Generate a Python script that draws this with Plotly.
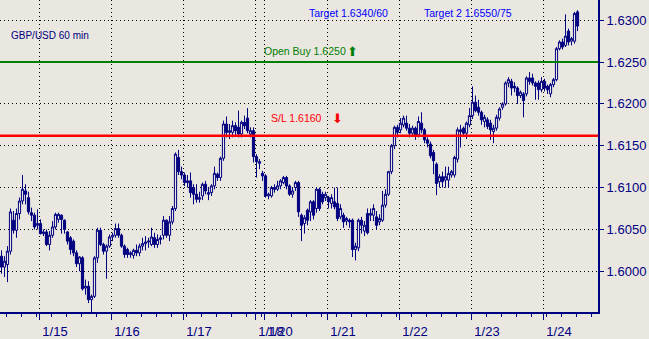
import plotly.graph_objects as go

# ---------------- data (GBP/USD, 60 min bars) ----------------
open_ = [1.6018,1.6005,1.6008,1.6024,1.6061,1.6049,1.6069,1.6084,1.6096,1.6088,
 1.6070,1.6067,1.6055,1.6057,1.6045,1.6047,1.6032,1.6043,1.6053,1.6062,
 1.6067,1.6061,1.6047,1.6040,1.6036,1.6022,1.6009,1.6016,1.5980,1.5982,
 1.5966,1.5970,1.6016,1.6049,1.6032,1.6024,1.6030,1.6041,1.6043,1.6051,
 1.6043,1.6030,1.6026,1.6020,1.6019,1.6025,1.6022,1.6030,1.6033,1.6035,
 1.6032,1.6040,1.6032,1.6038,1.6043,1.6061,1.6043,1.6059,1.6075,1.6136,
 1.6119,1.6115,1.6106,1.6108,1.6100,1.6092,1.6086,1.6090,1.6104,1.6092,
 1.6094,1.6102,1.6116,1.6112,1.6135,1.6176,1.6166,1.6166,1.6174,1.6172,
 1.6164,1.6178,1.6183,1.6164,1.6168,1.6137,1.6129,1.6117,1.6114,1.6090,
 1.6090,1.6100,1.6098,1.6102,1.6106,1.6112,1.6102,1.6092,1.6100,1.6106,
 1.6067,1.6057,1.6073,1.6071,1.6083,1.6075,1.6098,1.6092,1.6088,1.6088,
 1.6081,1.6083,1.6081,1.6065,1.6067,1.6060,1.6061,1.6061,1.6026,1.6028,
 1.6061,1.6048,1.6069,1.6067,1.6067,1.6065,1.6059,1.6061,1.6079,1.6092,
 1.6119,1.6150,1.6172,1.6169,1.6175,1.6177,1.6171,1.6165,1.6171,1.6163,
 1.6177,1.6169,1.6157,1.6152,1.6142,1.6128,1.6107,1.6113,1.6109,1.6109,
 1.6115,1.6115,1.6134,1.6169,1.6171,1.6165,1.6175,1.6186,1.6202,1.6196,
 1.6190,1.6179,1.6181,1.6177,1.6167,1.6171,1.6183,1.6196,1.6200,1.6225,
 1.6227,1.6221,1.6219,1.6210,1.6212,1.6212,1.6231,1.6231,1.6225,1.6225,
 1.6217,1.6227,1.6221,1.6212,1.6223,1.6229,1.6266,1.6274,1.6270,1.6287,
 1.6275,1.6275,1.6310]

high = [1.6025,1.6018,1.6030,1.6075,1.6072,1.6075,1.6088,1.6115,1.6104,1.6095,
 1.6076,1.6070,1.6074,1.6062,1.6050,1.6050,1.6048,1.6060,1.6070,1.6070,
 1.6068,1.6062,1.6048,1.6042,1.6038,1.6025,1.6018,1.6018,1.5990,1.5988,
 1.5972,1.6018,1.6052,1.6052,1.6034,1.6032,1.6044,1.6046,1.6057,1.6057,
 1.6045,1.6032,1.6028,1.6024,1.6027,1.6032,1.6033,1.6040,1.6042,1.6040,
 1.6052,1.6046,1.6044,1.6043,1.6066,1.6062,1.6066,1.6078,1.6142,1.6145,
 1.6125,1.6118,1.6115,1.6118,1.6104,1.6104,1.6095,1.6106,1.6108,1.6100,
 1.6104,1.6125,1.6118,1.6137,1.6180,1.6185,1.6176,1.6180,1.6178,1.6192,
 1.6180,1.6186,1.6195,1.6172,1.6172,1.6140,1.6134,1.6120,1.6116,1.6094,
 1.6102,1.6104,1.6108,1.6110,1.6114,1.6114,1.6104,1.6100,1.6108,1.6108,
 1.6069,1.6067,1.6075,1.6085,1.6085,1.6100,1.6100,1.6095,1.6095,1.6090,
 1.6092,1.6100,1.6100,1.6080,1.6070,1.6065,1.6063,1.6063,1.6034,1.6063,
 1.6065,1.6060,1.6075,1.6075,1.6080,1.6072,1.6068,1.6096,1.6098,1.6120,
 1.6152,1.6174,1.6175,1.6183,1.6186,1.6186,1.6176,1.6174,1.6173,1.6185,
 1.6190,1.6171,1.6160,1.6155,1.6145,1.6130,1.6116,1.6119,1.6125,1.6125,
 1.6121,1.6138,1.6172,1.6175,1.6173,1.6179,1.6195,1.6221,1.6210,1.6205,
 1.6192,1.6187,1.6184,1.6181,1.6175,1.6187,1.6196,1.6202,1.6227,1.6232,
 1.6230,1.6226,1.6221,1.6216,1.6214,1.6233,1.6238,1.6236,1.6227,1.6228,
 1.6232,1.6230,1.6223,1.6225,1.6231,1.6268,1.6276,1.6278,1.6307,1.6290,
 1.6280,1.6310,1.6312]

low = [1.5997,1.5993,1.5987,1.6020,1.6045,1.6040,1.6062,1.6080,1.6080,1.6068,
 1.6060,1.6050,1.6050,1.6044,1.6042,1.6030,1.6025,1.6040,1.6050,1.6058,
 1.6045,1.6045,1.6032,1.6020,1.6018,1.6005,1.6000,1.5977,1.5972,1.5962,
 1.5950,1.5968,1.6010,1.6030,1.6020,1.5991,1.6028,1.6036,1.6040,1.6040,
 1.6028,1.6016,1.6016,1.6016,1.6015,1.6018,1.6018,1.6025,1.6025,1.6028,
 1.6030,1.6028,1.6028,1.6032,1.6038,1.6040,1.6036,1.6056,1.6072,1.6115,
 1.6110,1.6102,1.6100,1.6088,1.6080,1.6082,1.6082,1.6085,1.6092,1.6085,
 1.6090,1.6098,1.6108,1.6108,1.6132,1.6160,1.6158,1.6160,1.6162,1.6160,
 1.6160,1.6170,1.6165,1.6160,1.6130,1.6112,1.6122,1.6108,1.6088,1.6086,
 1.6088,1.6094,1.6096,1.6098,1.6104,1.6098,1.6090,1.6088,1.6096,1.6065,
 1.6036,1.6045,1.6055,1.6060,1.6062,1.6070,1.6072,1.6080,1.6084,1.6075,
 1.6075,1.6074,1.6060,1.6062,1.6052,1.6055,1.6052,1.6017,1.6013,1.6024,
 1.6045,1.6042,1.6044,1.6060,1.6060,1.6050,1.6055,1.6059,1.6076,1.6090,
 1.6116,1.6146,1.6160,1.6165,1.6172,1.6168,1.6160,1.6161,1.6157,1.6160,
 1.6165,1.6153,1.6148,1.6135,1.6116,1.6091,1.6100,1.6100,1.6100,1.6100,
 1.6112,1.6112,1.6130,1.6148,1.6162,1.6158,1.6172,1.6182,1.6190,1.6186,
 1.6175,1.6172,1.6170,1.6157,1.6153,1.6168,1.6180,1.6193,1.6198,1.6220,
 1.6210,1.6214,1.6200,1.6207,1.6184,1.6209,1.6223,1.6222,1.6205,1.6205,
 1.6214,1.6215,1.6212,1.6208,1.6220,1.6227,1.6264,1.6265,1.6268,1.6270,
 1.6270,1.6272,1.6287]

close = [1.6005,1.6012,1.6024,1.6071,1.6049,1.6069,1.6084,1.6098,1.6092,1.6071,
 1.6067,1.6053,1.6057,1.6045,1.6047,1.6032,1.6043,1.6053,1.6068,1.6068,
 1.6062,1.6050,1.6036,1.6026,1.6022,1.6009,1.6017,1.5979,1.5982,1.5966,
 1.5970,1.6016,1.6049,1.6032,1.6024,1.6030,1.6041,1.6043,1.6051,1.6043,
 1.6030,1.6020,1.6020,1.6022,1.6025,1.6022,1.6030,1.6033,1.6035,1.6036,
 1.6041,1.6032,1.6038,1.6040,1.6061,1.6043,1.6059,1.6075,1.6140,1.6119,
 1.6115,1.6106,1.6108,1.6094,1.6092,1.6086,1.6088,1.6104,1.6096,1.6094,
 1.6102,1.6117,1.6112,1.6135,1.6176,1.6166,1.6168,1.6174,1.6168,1.6164,
 1.6178,1.6174,1.6168,1.6168,1.6137,1.6131,1.6131,1.6114,1.6090,1.6092,
 1.6100,1.6098,1.6102,1.6108,1.6112,1.6102,1.6092,1.6096,1.6106,1.6071,
 1.6055,1.6064,1.6061,1.6083,1.6067,1.6098,1.6075,1.6083,1.6092,1.6083,
 1.6088,1.6077,1.6063,1.6075,1.6059,1.6063,1.6059,1.6026,1.6030,1.6061,
 1.6055,1.6055,1.6046,1.6069,1.6075,1.6055,1.6063,1.6079,1.6092,1.6119,
 1.6150,1.6172,1.6166,1.6177,1.6183,1.6171,1.6165,1.6171,1.6163,1.6179,
 1.6169,1.6157,1.6153,1.6138,1.6132,1.6105,1.6113,1.6107,1.6113,1.6117,
 1.6119,1.6136,1.6169,1.6167,1.6165,1.6177,1.6186,1.6202,1.6192,1.6190,
 1.6181,1.6184,1.6173,1.6169,1.6171,1.6184,1.6194,1.6200,1.6225,1.6229,
 1.6219,1.6219,1.6210,1.6214,1.6204,1.6231,1.6227,1.6225,1.6221,1.6217,
 1.6227,1.6219,1.6217,1.6223,1.6229,1.6266,1.6274,1.6268,1.6281,1.6274,
 1.6278,1.6308,1.6293]

day_labels = ["1/15", "1/16", "1/17", "1/18", "1/20", "1/21", "1/22", "1/23", "1/24"]
day_first_bar = [13, 37, 61, 85, 88, 109, 133, 157, 181]

price_ticks = [1.6000, 1.6050, 1.6100, 1.6150, 1.6200, 1.6250, 1.6300]

open_buy_level = 1.6250
stop_loss_level = 1.6162
title_text = "GBP/USD 60 min"
# ----------------------------------------------------------------

NAVY = "#000080"
BG = "#EAE6E0"
FONT = "Liberation Sans, Arial, sans-serif"

bars = list(range(len(close)))

fig = go.Figure(go.Candlestick(
    x=bars, open=open_, high=high, low=low, close=close,
    increasing=dict(line=dict(color=NAVY, width=1), fillcolor=BG),
    decreasing=dict(line=dict(color=NAVY, width=1), fillcolor=NAVY),
    whiskerwidth=0, hoverinfo="skip", showlegend=False,
))

fig.add_shape(type="line", xref="paper", x0=0, x1=1, yref="y",
              y0=open_buy_level, y1=open_buy_level,
              line=dict(color="#008000", width=2))
fig.add_shape(type="line", xref="paper", x0=0, x1=1, yref="y",
              y0=stop_loss_level, y1=stop_loss_level,
              line=dict(color="#FF0000", width=2.5))

ann_font = dict(family=FONT, size=10.5)
annotations = [
    dict(x=2.5, y=1.6282, text=title_text, xanchor="left",
         font=dict(color=NAVY, family=FONT, size=10)),
    dict(x=115.5, y=1.6309, text="Target 1.6340/60", xanchor="center",
         font=dict(color="#0000FF", **ann_font)),
    dict(x=155.5, y=1.6309, text="Target 2 1.6550/75", xanchor="center",
         font=dict(color="#0000FF", **ann_font)),
    dict(x=86.8, y=1.6263, text="Open Buy 1.6250", xanchor="left",
         font=dict(color="#008000", **ann_font)),
    dict(x=117.0, y=1.6263, text="⬆", xanchor="center",
         font=dict(color="#008000", family="DejaVu Sans", size=13)),
    dict(x=89.2, y=1.6183, text="S/L 1.6160", xanchor="left",
         font=dict(color="#FF0000", **ann_font)),
    dict(x=112.0, y=1.6183, text="⬇", xanchor="center",
         font=dict(color="#FF0000", family="DejaVu Sans", size=13)),
]
for a in annotations:
    a.update(xref="x", yref="y", showarrow=False, yanchor="middle")

fig.update_layout(
    width=649, height=339, autosize=False,
    margin=dict(l=0, r=51, t=0, b=20, pad=0),
    paper_bgcolor=BG, plot_bgcolor=BG,
    boxgap=0.15, boxgroupgap=0.15,
    annotations=annotations,
    xaxis=dict(
        range=[-0.5, 198.83], rangeslider=dict(visible=False),
        tickmode="array",
        tickvals=[d - 0.5 for d in day_first_bar], ticktext=day_labels,
        tickangle=0, ticklabelshift=16,
        showgrid=True, gridcolor="#000000", gridwidth=1, griddash="1px,3px",
        showline=True, linecolor=NAVY, linewidth=2,
        ticks="outside", ticklen=6, tickcolor=NAVY, tickwidth=1,
        tickfont=dict(family=FONT, size=13, color=NAVY),
        zeroline=False,
        minor=dict(ticks="outside", ticklen=3, tickcolor=NAVY, tickwidth=1,
                   tickmode="linear", tick0=1.5, dtick=5, showgrid=False),
    ),
    yaxis=dict(
        side="right", range=[1.59513, 1.63242],
        tickmode="array", tickvals=price_ticks,
        ticktext=[f"{v:.4f}" for v in price_ticks],
        showgrid=True, gridcolor="#000000", gridwidth=1, griddash="1px,3px",
        showline=True, linecolor=NAVY, linewidth=2,
        ticks="outside", ticklen=4, tickcolor=NAVY, tickwidth=1,
        tickfont=dict(family=FONT, size=13, color=NAVY),
        zeroline=False,
    ),
)

fig.write_html("out.html")
